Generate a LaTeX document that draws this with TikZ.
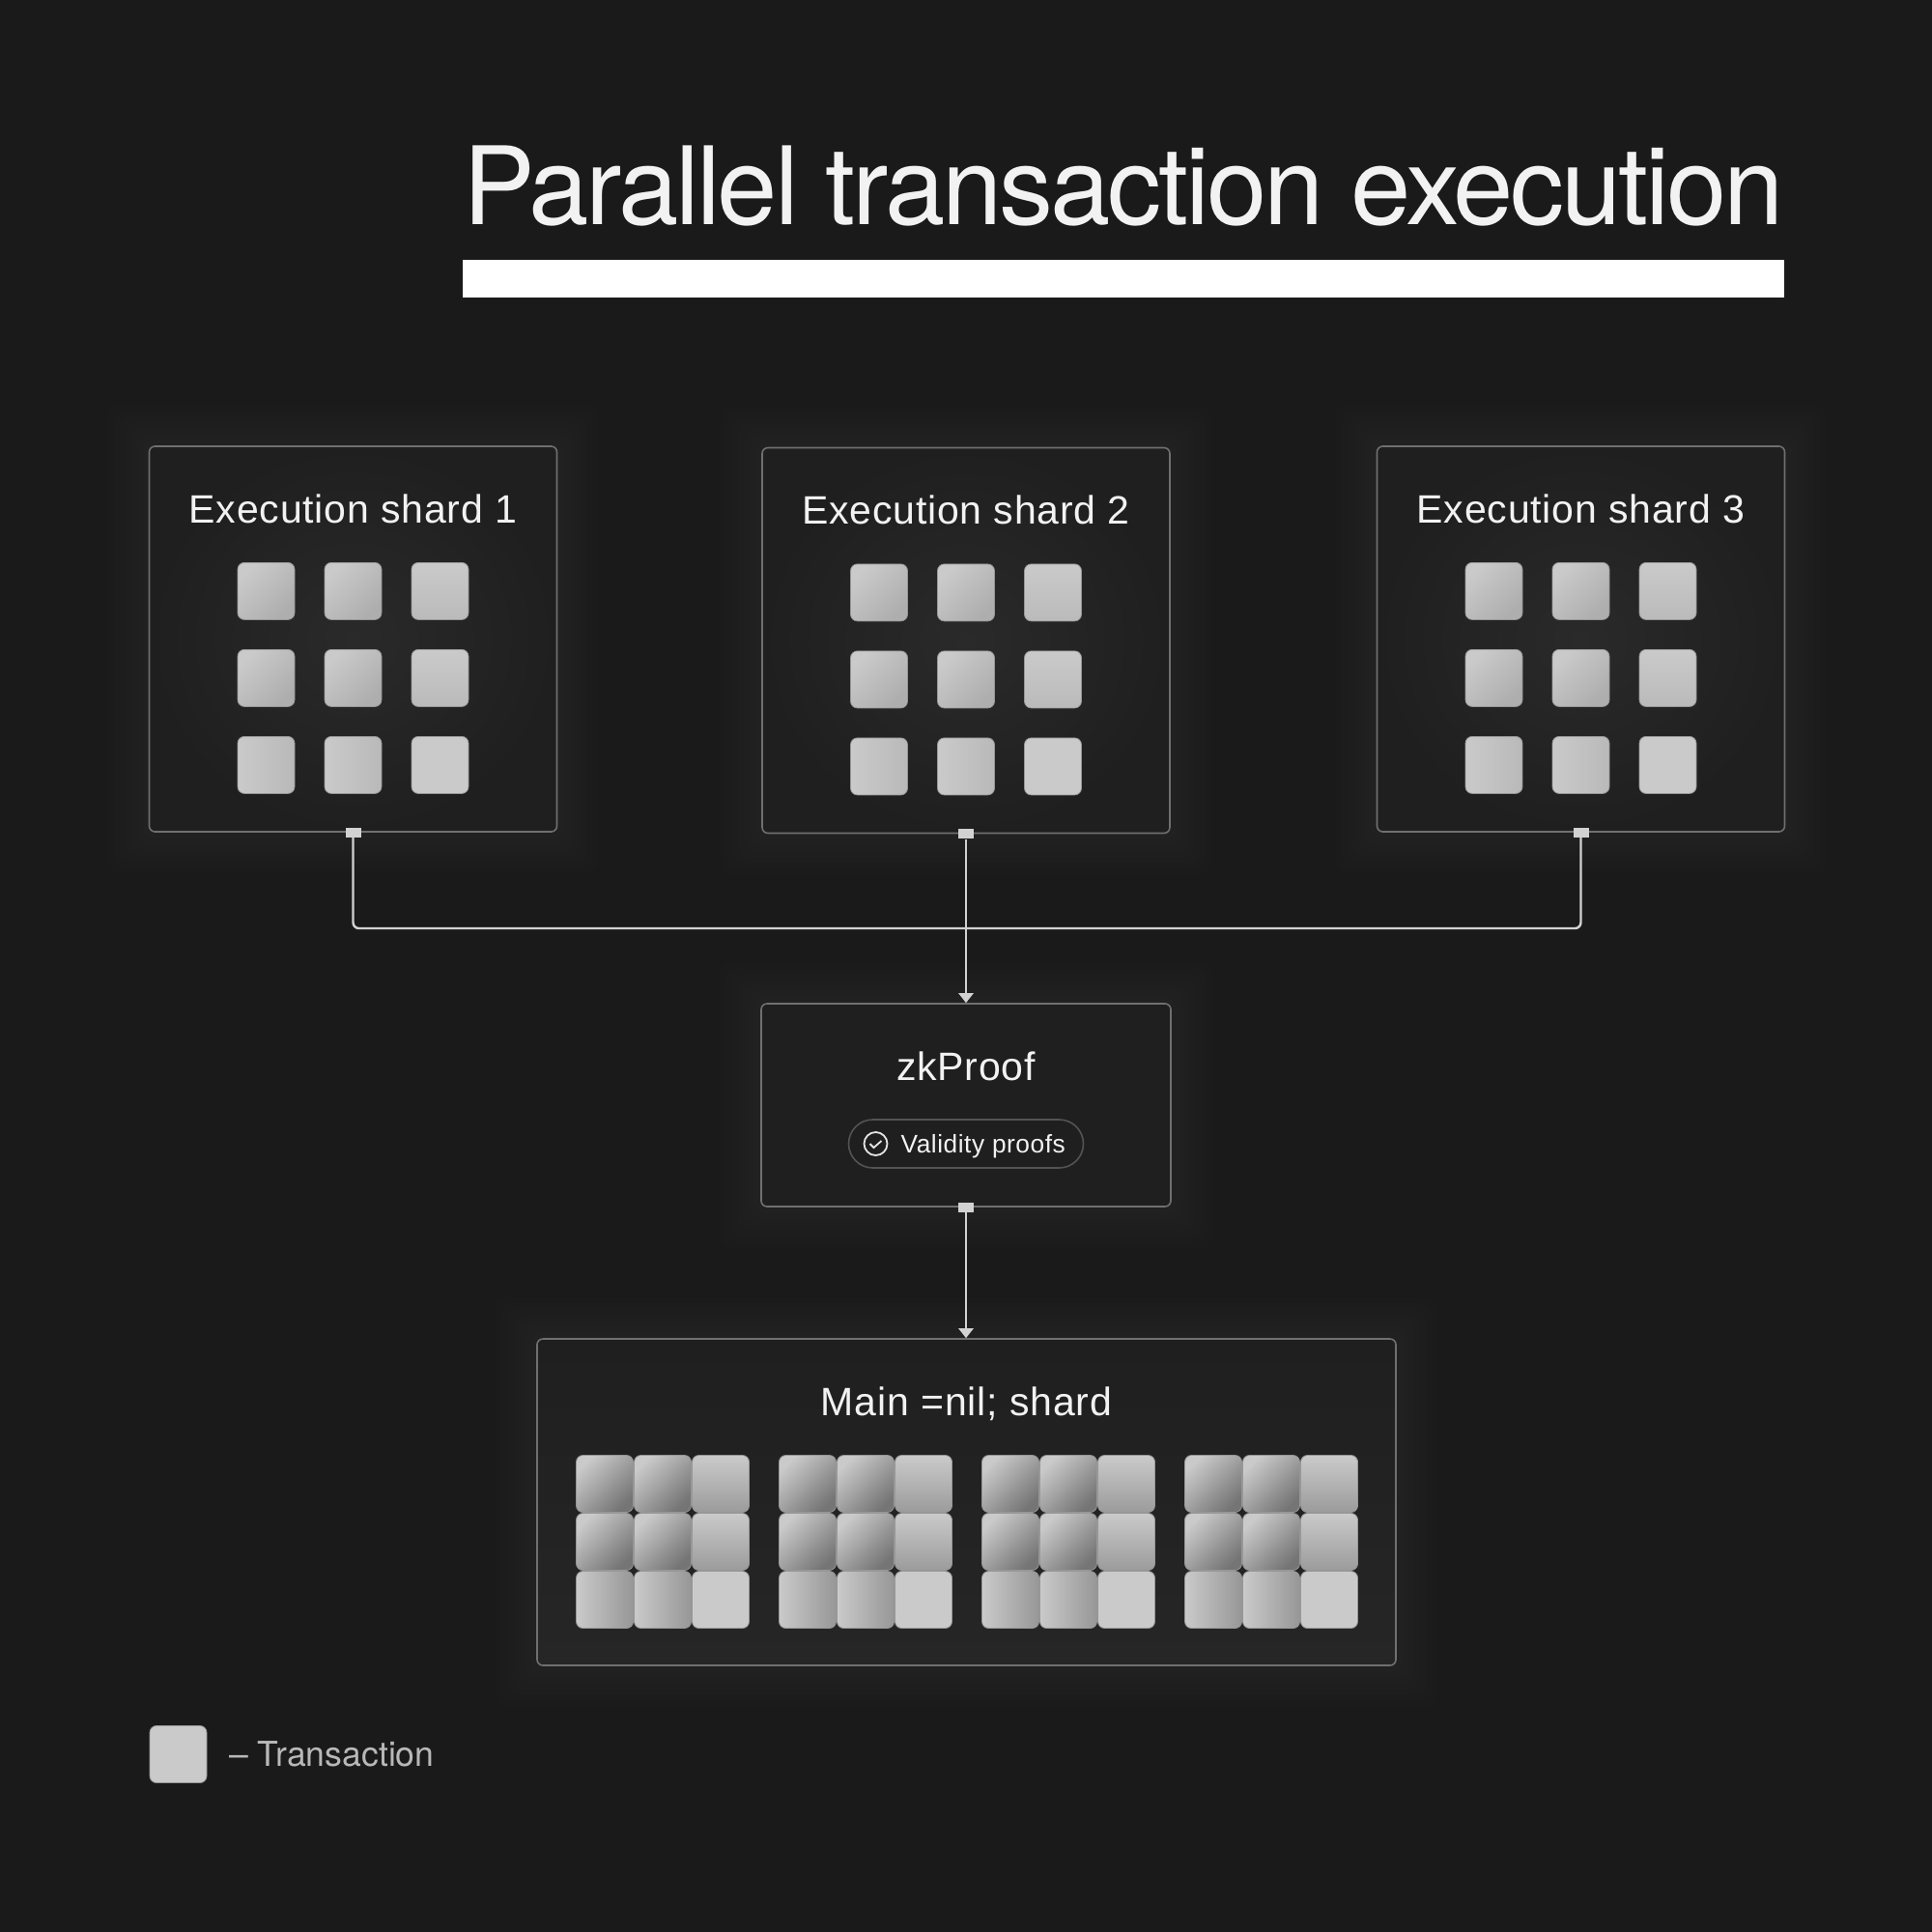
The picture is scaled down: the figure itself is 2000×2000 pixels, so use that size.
\documentclass[tikz,border=0pt]{standalone}
\usepackage{fontspec}
\setmainfont{Liberation Sans}
\newfontfamily\labelfont[LetterSpace=2]{Liberation Sans}
\newfontfamily\headfont[LetterSpace=-2.8]{TeX Gyre Heros}
\newfontfamily\legendfont{TeX Gyre Heros}
\usetikzlibrary{calc,positioning,arrows.meta,backgrounds}
\definecolor{pagebg}{HTML}{1A1A1A}
\definecolor{boxedge}{HTML}{707070}
\definecolor{boxfill}{HTML}{1F1F1F}
\definecolor{boxmid}{HTML}{2A2A2A}
\definecolor{boxlow}{HTML}{262626}
\definecolor{tilelight}{HTML}{CACACA}
\definecolor{wirecol}{HTML}{D2D2D2}
\tikzset{
     shardbox/.style = {draw=boxedge, line width=1.6pt, rounded corners=6pt, inner sep=0pt,
        minimum width=422pt, minimum height=399pt, shade, shading=radial, inner color=boxmid, outer color=boxfill},
      proofbox/.style = {draw=boxedge, line width=1.6pt, rounded corners=6pt, inner sep=0pt, fill=boxfill,
        minimum width=424pt, minimum height=210pt},
      mainbox/.style = {draw=boxedge, line width=1.6pt, rounded corners=6pt, inner sep=0pt,
        minimum width=889pt, minimum height=338pt, top color=boxfill, bottom color=boxlow},
      boxlabel/.style = {text=white!95!black, font=\labelfont\fontsize{41}{48}\selectfont, inner sep=0pt},
      tile/.style = {rounded corners=7pt, inner sep=0pt, draw=tilelight!75!black, line width=0.8pt},
      diag/.style = {top color=tilelight, middle color=tilelight!97!black, bottom color=tiledark, shading angle=45},
      vert/.style = {top color=tilelight, middle color=tilelight!98!black, bottom color=tiledark!55!tilelight},
      horiz/.style = {top color=tilelight, middle color=tilelight!98!black, bottom color=tiledark!60!tilelight, shading angle=90},
      flat/.style = {fill=tilelight},
      port/.style = {fill=wirecol, inner sep=0pt, minimum width=16pt, minimum height=10pt},
      wire/.style = {draw=wirecol, line width=2.4pt},
      arrowwire/.style = {wire, -{Triangle[length=10pt,width=15pt]}},
      pill/.style = {draw=boxedge!120, line width=1.6pt, rounded corners=25pt, inner sep=0pt,
        minimum width=243pt, minimum height=50pt},
      checkicon/.style = {circle, draw=white!90!black, line width=1.8pt, inner sep=0pt, minimum size=24pt},
    }
% soft glow behind a box
\newcommand{\halo}[1]{
  \foreach \r in {6,12,...,42}
    \fill[white, opacity=0.006, rounded corners=12pt]
      ([shift={(-\r,-\r)}]#1.north west) rectangle ([shift={(\r,\r)}]#1.south east);
}
% three by three tiles around a centre
\newcommand{\tilegrid}[5]{
  \colorlet{tiledark}{#5}
  \foreach \c/\r/\kind in {0/0/diag,1/0/diag,2/0/vert,0/1/diag,1/1/diag,2/1/vert,0/2/horiz,1/2/horiz,2/2/flat}
    \node[tile, \kind, minimum size=#4] (#1-\c-\r) at ($(#2)+({(\c-1)*#3},{(\r-1)*#3})$) {};
}
\begin{document}
\begin{tikzpicture}[x=1pt,y=-1pt,node distance=100pt,on grid]
            \useasboundingbox (0,0) rectangle (2000,2000);

            \node [fill=white, inner sep=0pt, minimum width=1368pt, minimum height=39pt] (bar) at (1163,288.5) {};
            \node [text=white!95!black, font=\headfont\fontsize{112}{130}\selectfont, inner sep=0pt, above=56.5pt of bar.center, anchor=base] (title) {Parallel transaction execution};

            \node [shardbox] (shard2) at (1000,663) {};
            \node [shardbox] (shard1) [left=634.5pt of shard2, yshift=1.5pt] {};
            \node [shardbox] (shard3) [right=636.5pt of shard2, yshift=1.5pt] {};
            \node [proofbox] (zkproof) [below=481pt of shard2] {};
            \node [mainbox] (mainshard) [below=411pt of zkproof, xshift=0.5pt] {};

            \begin{scope}[on background layer]
              \fill[pagebg] (0,0) rectangle (2000,2000);
              \halo{shard1}
              \halo{shard2}
              \halo{shard3}
              \halo{zkproof}
              \halo{mainshard}
            \end{scope}

            \node [boxlabel, below=80pt of shard1.north, anchor=base] (label1) {Execution shard 1};
            \node [boxlabel, below=80pt of shard2.north, anchor=base] (label2) {Execution shard 2};
            \node [boxlabel, below=80pt of shard3.north, anchor=base] (label3) {Execution shard 3};
            \node [boxlabel, below=80pt of zkproof.north, anchor=base] (labelproof) {zkProof};
            \node [boxlabel, below=80pt of mainshard.north, anchor=base] (labelmain) {Main =nil; shard};

            \tilegrid{sa}{$(shard1)+(0,40.4)$}{90}{59pt}{black!14!tilelight}
            \tilegrid{sb}{$(shard2)+(0,40.4)$}{90}{59pt}{black!14!tilelight}
            \tilegrid{sc}{$(shard3)+(0,40.4)$}{90}{59pt}{black!14!tilelight}
            \tilegrid{ma}{$(mainshard)+(-314.5,41)$}{60}{59pt}{black!42!tilelight}
            \tilegrid{mb}{$(mainshard)+(-104.5,41)$}{60}{59pt}{black!42!tilelight}
            \tilegrid{mc}{$(mainshard)+(105.5,41)$}{60}{59pt}{black!42!tilelight}
            \tilegrid{md}{$(mainshard)+(315.5,41)$}{60}{59pt}{black!42!tilelight}

            \node [pill] (validity) [below=40pt of zkproof] {};
            \node [checkicon] (icon) [left=93.5pt of validity] {};
            \draw[white!90!black, line width=1.8pt] ([shift={(-6,0)}]icon.center) -- ++(4,4) -- ++(8,-7);
            \node [text=white!95!black, font=\labelfont\fontsize{26.3}{32}\selectfont, inner sep=0pt, anchor=base west] (validlabel) at ([shift={(26,9)}]icon.center) {Validity proofs};

            \node [port] (port1) at (shard1.south) {};
            \node [port] (port2) at (shard2.south) {};
            \node [port] (port3) at (shard3.south) {};
            \node [port] (port4) at (zkproof.south) {};
            \coordinate (bus) at (1000,961);

            \draw[wire, rounded corners=6pt] (port1.south) |- (bus) -| (port3.south);
            \draw[arrowwire] (port2.south) -- (zkproof.north);
            \draw[arrowwire] (port4.south) -- (mainshard.north -| port4);

            \node [tile, flat, minimum size=59pt] (legendtile) at (184.5,1816) {};
            \node [text=white!72!black, font=\legendfont\fontsize{35.6}{42}\selectfont, inner sep=0pt, anchor=base west] (legendtext) at ([shift={(52.5,12)}]legendtile.center) {– Transaction};
      \end{tikzpicture}
\end{document}
